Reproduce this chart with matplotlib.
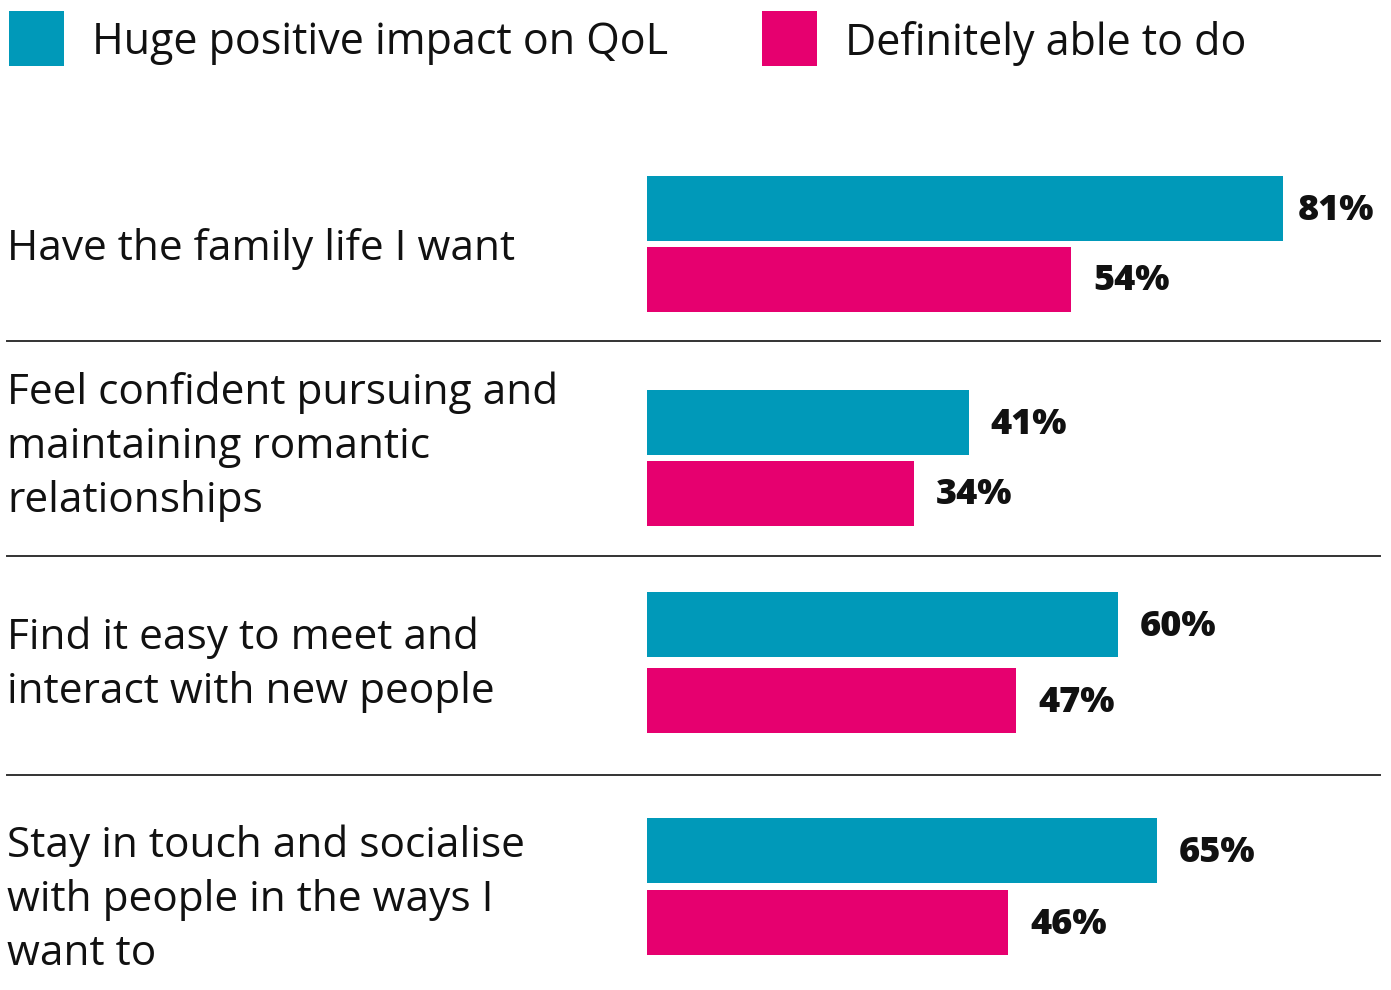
import matplotlib
matplotlib.use("Agg")
import matplotlib.pyplot as plt
from matplotlib.lines import Line2D
from matplotlib.patches import Rectangle

# Survey results (%)
categories = [
    "Have the family life I want",
    "Feel confident pursuing and\nmaintaining romantic\nrelationships",
    "Find it easy to meet and\ninteract with new people",
    "Stay in touch and socialise\nwith people in the ways I\nwant to",
]
qol_impact = [81, 41, 60, 65]
able_to_do = [54, 34, 47, 46]
series_names = ["Huge positive impact on QoL", "Definitely able to do"]

TEAL = "#0099b9"
PINK = "#e6006f"
FONT = "Open Sans"

W, H = 1391, 990
fig = plt.figure(figsize=(W / 100, H / 100), dpi=100)
fig.patch.set_facecolor("white")


def fx(px):
    return px / W


def fy(py):
    return 1 - py / H


# Bar panel: starts at x=647 px, 7.85 px per percentage point; y in pixel rows
x0 = 647
px_per_pct = 7.85
ax = fig.add_axes([fx(x0), 0, fx(W - x0), 1])
ax.set_xlim(0, (W - x0) / px_per_pct)
ax.set_ylim(H, 0)
ax.axis("off")

# group layout (pixel rows)
teal_centers = [208.5, 422.5, 624.5, 850.5]
pink_centers = [279.5, 493.5, 700.5, 922.5]
bar_h = 65

ax.barh(teal_centers, qol_impact, height=bar_h, color=TEAL, left=0)
ax.barh(pink_centers, able_to_do, height=bar_h, color=PINK, left=0)

label_offset = 22 / px_per_pct
value_texts = []
for centers, values in [(teal_centers, qol_impact), (pink_centers, able_to_do)]:
    for yc, v in zip(centers, values):
        t = ax.text(v + label_offset, yc + 2, f"{v}%", ha="left", va="center",
                    fontsize=26, fontweight="heavy", family=FONT, color="#111111")
        value_texts.append(t)

# keep value labels inside the right margin
fig.canvas.draw()
renderer = fig.canvas.get_renderer()
right_edge_px = 1374
for t in value_texts:
    bb = t.get_window_extent(renderer)
    if bb.x1 > right_edge_px:
        shift = (bb.x1 - right_edge_px) / px_per_pct
        x, y = t.get_position()
        t.set_position((x - shift, y))

# Category labels
label_centers = [249, 447, 665, 900]
for yc, txt in zip(label_centers, categories):
    fig.text(fx(7), fy(yc), txt, ha="left", va="center", fontsize=30.5,
             family=FONT, fontweight="medium", color="#111111", linespacing=1.38)

# Separator rules between groups
for yr in [341, 556, 775]:
    fig.add_artist(Line2D([fx(7), fx(1380)], [fy(yr), fy(yr)],
                          color="#333333", lw=1.4))

# Legend
legend_items = [(9, TEAL, series_names[0], 92), (762, PINK, series_names[1], 845)]
for sx, col, name, tx in legend_items:
    fig.add_artist(Rectangle((fx(sx), fy(66)), fx(55), 55 / H,
                             facecolor=col, edgecolor="none",
                             transform=fig.transFigure))
    fig.text(fx(tx), fy(43), name, ha="left", va="center", fontsize=31,
             family=FONT, fontweight="medium", color="#111111")

fig.savefig("out.png", dpi=100, facecolor="white")
